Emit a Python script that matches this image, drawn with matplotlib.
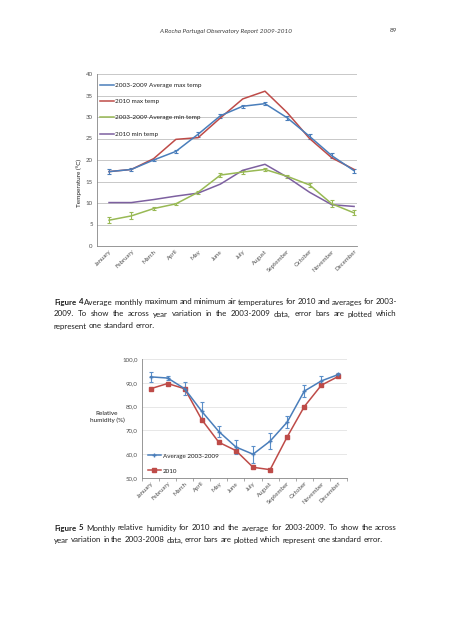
import numpy as np
import matplotlib.pyplot as plt
from matplotlib.lines import Line2D

# page is 452 x 640 px, everything laid out in pixel units below
W, H = 452, 640

months = ["January", "February", "March", "April", "May", "June", "July",
          "August", "September", "October", "November", "December"]

# Figure 4 - temperatures (deg C)
avg_max = [17.3, 17.8, 20.0, 22.0, 26.0, 30.3, 32.5, 33.1, 29.8, 25.5, 21.0, 17.5]
avg_max_err = [0.6, 0.3, 0.3, 0.3, 0.6, 0.5, 0.4, 0.3, 0.4, 0.5, 0.6, 0.5]
max_2010 = [17.3, 17.8, 20.3, 24.8, 25.2, 29.8, 34.2, 36.0, 31.0, 25.0, 20.5, 17.8]
avg_min = [6.0, 7.0, 8.7, 9.8, 12.5, 16.5, 17.2, 17.8, 16.2, 14.2, 9.8, 7.7]
avg_min_err = [0.7, 0.8, 0.3, 0.3, 0.3, 0.4, 0.4, 0.4, 0.3, 0.4, 0.8, 0.6]
min_2010 = [10.1, 10.1, 10.8, 11.6, 12.3, 14.4, 17.6, 19.0, 16.0, 12.5, 9.6, 9.2]

# Figure 5 - relative humidity (%)
rh_avg = [92.5, 92.0, 87.5, 78.0, 69.5, 63.0, 60.0, 65.5, 73.5, 86.5, 90.8, 93.5]
rh_avg_err = [2.0, 1.0, 2.8, 3.8, 2.3, 3.0, 3.5, 3.5, 2.5, 2.5, 2.0, 0.8]
rh_2010 = [87.5, 89.7, 87.5, 74.5, 65.0, 61.5, 54.5, 53.5, 67.3, 80.0, 89.0, 92.7]

BLUE, RED, GREEN, PURPLE = "#4A7EBB", "#BE4B48", "#98B954", "#7D60A0"
TXT = "#1E1E1E"
AX = "#505050"

plt.rcParams["font.family"] = ["Lato", "DejaVu Sans"]

fig = plt.figure(figsize=(W / 100, H / 100), dpi=100)
fig.patch.set_facecolor("white")


def box(l, t, r, b):
    return [l / W, 1 - b / H, (r - l) / W, (b - t) / H]


def style_axes(ax, gridcol):
    for s in ["top", "right"]:
        ax.spines[s].set_visible(False)
    for s in ["left", "bottom"]:
        ax.spines[s].set_color("#868686")
        ax.spines[s].set_linewidth(0.6)
    ax.yaxis.grid(True, color=gridcol, linewidth=0.6)
    ax.set_axisbelow(True)
    ax.tick_params(axis="y", length=0, labelsize=4.4, labelcolor=AX, pad=3)
    ax.tick_params(axis="x", length=0, labelsize=4.4, labelcolor=AX, pad=2)


x = np.arange(len(months))

# ---------- Figure 4 ----------
ax1 = fig.add_axes(box(97, 74, 357, 246))
ax1.errorbar(x, avg_max, yerr=avg_max_err, color=BLUE, lw=1.1, capsize=1.5,
             elinewidth=0.8, capthick=0.8)
ax1.plot(x, max_2010, color=RED, lw=1.1)
ax1.errorbar(x, avg_min, yerr=avg_min_err, color=GREEN, lw=1.1, capsize=1.5,
             elinewidth=0.8, capthick=0.8)
ax1.plot(x, min_2010, color=PURPLE, lw=1.1)
ax1.set_xlim(-0.54, 11.13)
ax1.set_ylim(0, 40)
ax1.set_yticks(range(0, 41, 5))
ax1.set_xticks(x)
ax1.set_xticklabels(months, rotation=45, ha="right", rotation_mode="anchor")
style_axes(ax1, "#BFBFBF")
h1 = [Line2D([], [], color=c, lw=1.1) for c in (BLUE, RED, GREEN, PURPLE)]
ax1.legend(h1, ["2003-2009 Average max temp", "2010 max temp",
                "2003-2009 Average min temp", "2010 min temp"],
           loc="upper left", bbox_to_anchor=(-0.01, 0.985), frameon=False,
           fontsize=4.6, handlelength=2.1, handletextpad=0.3, labelspacing=1.7,
           labelcolor=TXT)
fig.text(79 / W, 1 - 183 / H, "Temperature (°C)", rotation=90, fontsize=4.6,
         color=TXT, ha="center", va="center")

# ---------- Figure 5 ----------
ax2 = fig.add_axes(box(142, 359, 347, 478))
ax2.errorbar(x, rh_avg, yerr=rh_avg_err, color=BLUE, lw=1.1, marker="+", ms=3,
             capsize=1.5, elinewidth=0.8, capthick=0.8, ecolor="#5B8FC9")
ax2.plot(x, rh_2010, color=RED, lw=1.1, marker="s", ms=2.6)
ax2.set_xlim(-0.5, 11.05)
ax2.set_ylim(50, 100)
ax2.set_yticks(range(50, 101, 10))
ax2.set_yticklabels([f"{v},0" for v in range(50, 101, 10)])
ax2.set_xticks(x)
ax2.set_xticklabels(months, rotation=45, ha="right", rotation_mode="anchor")
style_axes(ax2, "#E3E3E3")
ax2.set_xticks(np.arange(-0.5, 11.6, 1), minor=True)
ax2.tick_params(axis="x", which="minor", length=2.5, color="#868686", width=0.5)
h2 = [Line2D([], [], color=BLUE, lw=1.1, marker="+", ms=3),
      Line2D([], [], color=RED, lw=1.1, marker="s", ms=2.6)]
ax2.legend(h2, ["Average 2003-2009", "2010"], loc="lower left",
           bbox_to_anchor=(0.0, -0.01), frameon=False, fontsize=4.5,
           handlelength=2.2, handletextpad=0.2, labelspacing=1.55, labelcolor=TXT)
fig.text(107 / W, 1 - 417 / H, "Relative\nhumidity (%)", fontsize=4.6,
         color=TXT, ha="center", va="center", linespacing=1.5)

# ---------- page text ----------
fig.text(226 / W, 1 - 31 / H, "A Rocha Portugal Observatory Report 2009-2010",
         fontsize=4.6, style="italic", color="#404040", ha="center", va="center")
fig.text(393 / W, 1 - 31 / H, "89", fontsize=4.6, color="#404040",
         ha="center", va="center")

renderer = fig.canvas.get_renderer()
CAP = 5.7


def caption_line(words, y, x0=54, x1=397, justify=True, bold_first=0):
    objs = []
    for i, w in enumerate(words):
        t = fig.text(0, 1 - y / H, w, fontsize=CAP, color=TXT, va="center",
                     weight="bold" if i < bold_first else "normal")
        objs.append(t)
    widths = [t.get_window_extent(renderer).width for t in objs]
    if justify and len(objs) > 1:
        gap = (x1 - x0 - sum(widths)) / (len(objs) - 1)
    else:
        gap = CAP * 100 / 72 * 0.24
    pos = x0
    for t, wd in zip(objs, widths):
        t.set_x(pos / W)
        pos += wd + gap


caption_line("Figure 4 Average monthly maximum and minimum air temperatures for 2010 and averages for 2003-".split(),
             302, bold_first=2)
caption_line("2009. To show the across year variation in the 2003-2009 data, error bars are plotted which".split(), 314)
caption_line("represent one standard error.".split(), 326, justify=False)
caption_line("Figure 5 Monthly relative humidity for 2010 and the average for  2003-2009. To show the across".split(),
             528, bold_first=2)
caption_line("year variation in the 2003-2008 data, error bars are plotted which represent one standard error.".split(),
             540, justify=False)

fig.savefig("out.png", dpi=100)
